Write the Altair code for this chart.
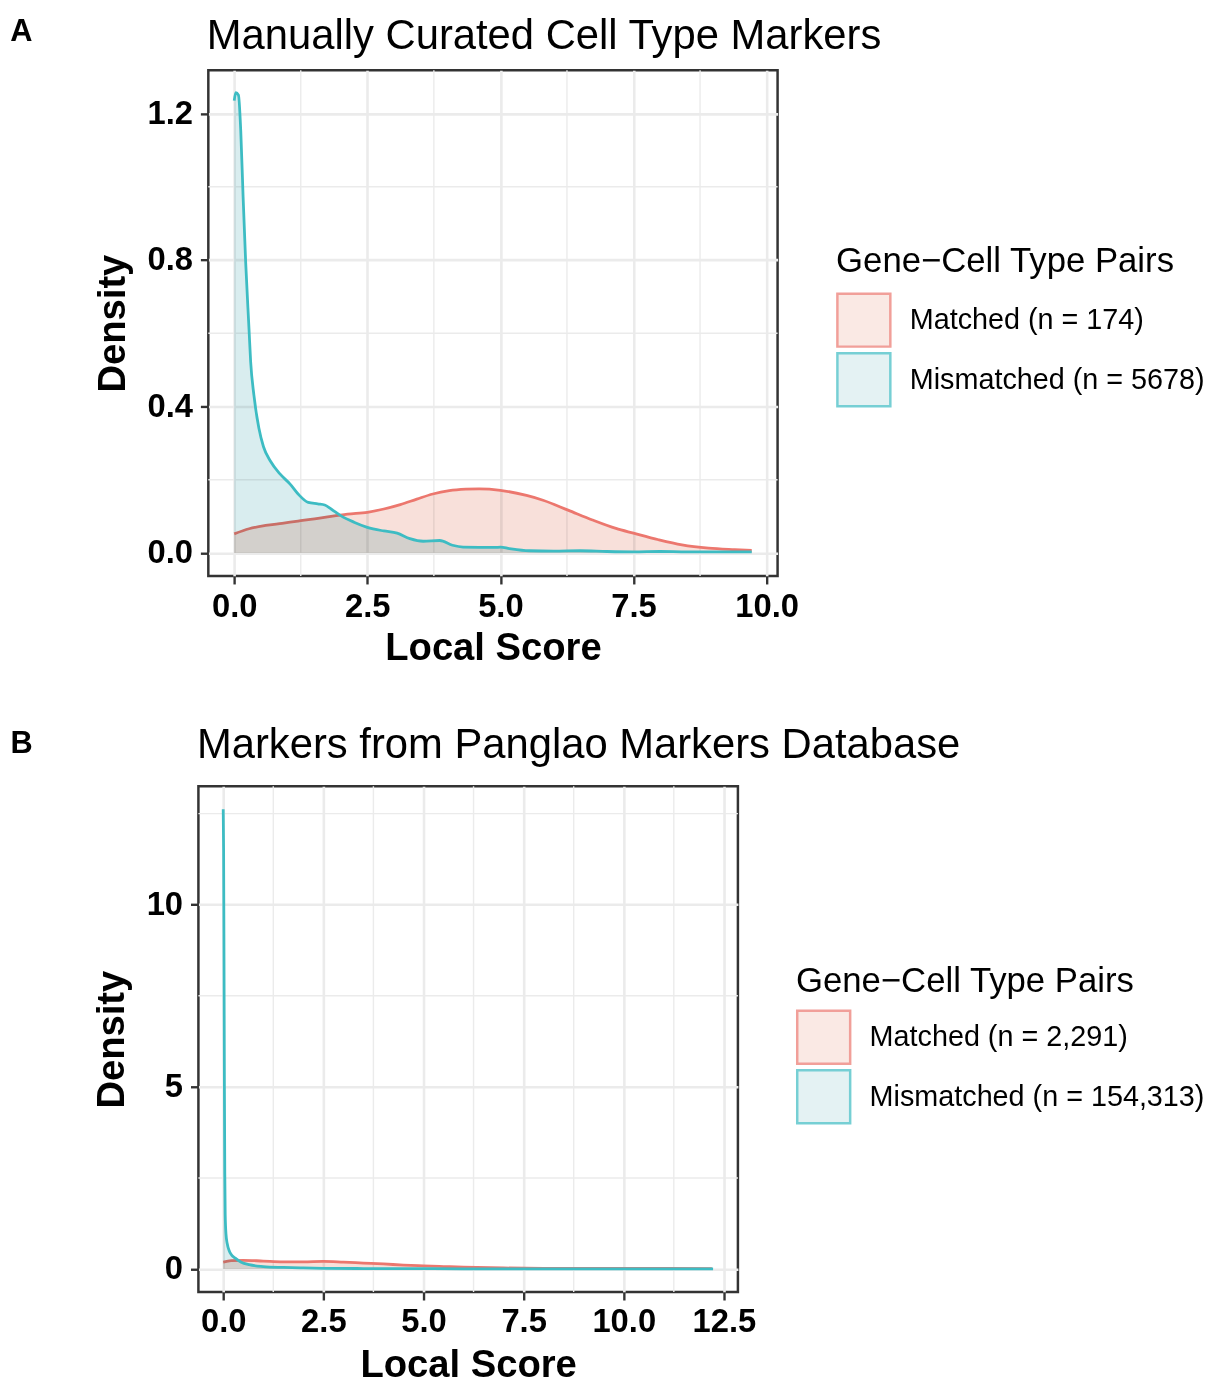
import altair as alt
import pandas as pd

FONT = "Liberation Sans"
RED_LINE = "#EC776E"
CYAN_LINE = "#3DBCC3"
RED_FILL = "#F8E0DA"
CYAN_FILL = "#D9EDEF"
GRID = "#EBEBEB"
LEGEND_TITLE = "Gene\u2212Cell Type Pairs"

# ---------------- Panel A : manually curated markers ----------------
a_title = "Manually Curated Cell Type Markers"
a_groups = ["Matched (n = 174)", "Mismatched (n = 5678)"]
a_matched_x = [0.0, 0.28, 0.59, 0.9, 1.2, 1.51, 1.82, 2.13, 2.5, 2.81,
               3.12, 3.43, 3.73, 4.04, 4.35, 4.6, 5.0, 5.49, 5.8, 6.27,
               6.73, 7.17, 7.5, 7.97, 8.41, 8.91, 9.4, 9.72]
a_matched_y = [0.052, 0.066, 0.075, 0.081, 0.087, 0.093, 0.100, 0.106, 0.111, 0.120,
               0.132, 0.147, 0.161, 0.170, 0.174, 0.175, 0.171, 0.157, 0.144, 0.117,
               0.090, 0.067, 0.054, 0.036, 0.022, 0.013, 0.009, 0.007]
a_mismatched_x = [0.0, 0.03, 0.08, 0.123, 0.167, 0.216, 0.278, 0.309, 0.37, 0.463,
                  0.55, 0.679, 0.864, 1.05, 1.2, 1.39, 1.57, 1.70, 1.82, 2.0,
                  2.25, 2.5, 2.81, 3.06, 3.3, 3.55, 3.86, 4.1, 4.3, 4.9,
                  5.0, 5.17, 5.54, 6.0, 6.5, 7.0, 7.5, 8.0, 8.5, 9.0, 9.72]
a_mismatched_y = [1.235, 1.257, 1.25, 1.153, 0.973, 0.792, 0.612, 0.522, 0.431, 0.341,
                  0.29, 0.251, 0.215, 0.188, 0.161, 0.138, 0.134, 0.131, 0.12, 0.102,
                  0.084, 0.07, 0.06, 0.054, 0.039, 0.032, 0.034, 0.021, 0.016, 0.015,
                  0.016, 0.012, 0.006, 0.005, 0.006, 0.004, 0.003, 0.004, 0.003, 0.003, 0.003]
a_x_major = [0.0, 2.5, 5.0, 7.5, 10.0]
a_x_minor = [1.25, 3.75, 6.25, 8.75]
a_y_major = [0.0, 0.4, 0.8, 1.2]
a_y_minor = [0.2, 0.6, 1.0]

# ---------------- Panel B : Panglao markers ----------------
b_title = "Markers from Panglao Markers Database"
b_groups = ["Matched (n = 2,291)", "Mismatched (n = 154,313)"]
b_matched_x = [0.0, 0.2, 0.5, 1.0, 1.5, 2.0, 2.5, 3.0, 3.5, 4.0,
               4.5, 5.0, 5.5, 6.0, 7.0, 8.0, 9.0, 10.0, 11.0, 12.2]
b_matched_y = [0.19, 0.23, 0.24, 0.22, 0.20, 0.20, 0.21, 0.19, 0.165, 0.14,
               0.11, 0.09, 0.07, 0.052, 0.03, 0.02, 0.018, 0.017, 0.016, 0.012]
b_mismatched_x = [0.0, 0.01, 0.02, 0.03, 0.04, 0.05, 0.07, 0.1, 0.15, 0.2,
                  0.3, 0.45, 0.65, 1.0, 1.5, 2.0, 2.5, 3.5, 4.5, 6.0,
                  8.0, 10.0, 12.23]
b_mismatched_y = [12.62, 11.5, 8.5, 5.0, 2.6, 1.5, 0.95, 0.7, 0.5, 0.4,
                  0.3, 0.19, 0.12, 0.07, 0.045, 0.03, 0.022, 0.015, 0.012, 0.008,
                  0.005, 0.004, 0.003]
b_x_major = [0.0, 2.5, 5.0, 7.5, 10.0, 12.5]
b_x_minor = [1.25, 3.75, 6.25, 8.75, 11.25]
b_y_major = [0, 5, 10]
b_y_minor = [2.5, 7.5, 12.5]


def make_df(xs, ys, g):
    return pd.DataFrame({"score": xs, "density": ys, "group": g})


def spacer():
    # invisible 1px cell: lets each panel be placed by its own left extent
    return alt.Chart(pd.DataFrame({"a": [0]})).mark_rule(
        strokeOpacity=0, strokeWidth=0).encode(
        x=alt.value(0), y=alt.value(0), y2=alt.value(1)).properties(
        width=1, height=1, view=alt.ViewBackground(strokeOpacity=0, strokeWidth=0))


def panel(groups, mx, my, mmx, mmy, xdom, ydom, xmajor, xminor, ymajor, yminor,
          yfmt, width, height, title, title_y, letter, letter_x, letter_y,
          legend_x, legend_y, legend_title_pad, x_label_pad, x_title_pad):
    df = pd.concat([make_df(mx, my, groups[0]), make_df(mmx, mmy, groups[1])],
                   ignore_index=True)
    xs = alt.Scale(domain=xdom, nice=False, zero=False)
    ys = alt.Scale(domain=ydom, nice=False, zero=False)
    fill_sc = alt.Scale(domain=groups, range=[RED_FILL, CYAN_FILL])
    stroke_sc = alt.Scale(domain=groups, range=[RED_LINE, CYAN_LINE])
    xaxis = alt.Axis(values=xmajor, format=".1f", title="Local Score",
                     labelPadding=x_label_pad, titlePadding=x_title_pad)
    yaxis = alt.Axis(values=ymajor, format=yfmt, title="Density")
    leg = alt.Legend(
        title=LEGEND_TITLE, orient="none", legendX=legend_x, legendY=legend_y,
        titleFont=FONT, titleFontSize=35, titleFontWeight="normal", titleColor="black",
        labelFont=FONT, labelFontSize=29, labelColor="black", symbolType="square",
        symbolSize=2850, symbolStrokeWidth=2.5, labelOffset=18.3, rowPadding=-15,
        titlePadding=legend_title_pad, padding=0, labelLimit=600, titleLimit=600)
    base = alt.Chart(df)

    legend_layer = alt.Chart(pd.DataFrame({"group": groups})).transform_filter(
        "false").mark_square(filled=True, strokeWidth=2.5).encode(
        fill=alt.Fill("group:N", scale=fill_sc, legend=leg),
        stroke=alt.Stroke("group:N", scale=stroke_sc, legend=leg))

    vminor = alt.Chart(pd.DataFrame({"v": xminor})).mark_rule(
        color=GRID, strokeWidth=1.4).encode(x=alt.X("v:Q", scale=xs, axis=xaxis))
    hminor = alt.Chart(pd.DataFrame({"v": yminor})).mark_rule(
        color=GRID, strokeWidth=1.4).encode(y=alt.Y("v:Q", scale=ys, axis=yaxis))

    def area(g):
        return base.transform_filter(alt.datum.group == g).mark_area(
            interpolate="monotone", blend="multiply").encode(
            x=alt.X("score:Q", scale=xs, axis=xaxis),
            y=alt.Y("density:Q", scale=ys, axis=yaxis),
            y2=alt.datum(0),
            fill=alt.Fill("group:N", scale=fill_sc, legend=leg))

    def line(g):
        return base.transform_filter(alt.datum.group == g).mark_line(
            interpolate="monotone", strokeWidth=2.8).encode(
            x=alt.X("score:Q", scale=xs, axis=xaxis),
            y=alt.Y("density:Q", scale=ys, axis=yaxis),
            stroke=alt.Stroke("group:N", scale=stroke_sc, legend=leg))

    title_layer = alt.Chart(pd.DataFrame({"t": [title]})).mark_text(
        align="left", baseline="alphabetic", font=FONT, fontSize=42.1,
        color="black").encode(text="t:N", x=alt.value(-1.5), y=alt.value(title_y))
    letter_layer = alt.Chart(pd.DataFrame({"t": [letter]})).mark_text(
        align="left", baseline="alphabetic", font=FONT, fontSize=31,
        fontWeight="bold", color="black").encode(
        text="t:N", x=alt.value(letter_x), y=alt.value(letter_y))

    layered = alt.layer(legend_layer, vminor, hminor, area(groups[0]), line(groups[0]),
                        area(groups[1]), line(groups[1]),
                        title_layer, letter_layer).properties(width=width, height=height)
    return alt.hconcat(spacer(), layered, spacing=0).resolve_scale(
        fill="independent", stroke="independent").resolve_legend(
        fill="independent", stroke="independent")


pa = panel(a_groups, a_matched_x, a_matched_y, a_mismatched_x, a_mismatched_y,
           [-0.486, 10.206], [-0.063, 1.318], a_x_major, a_x_minor, a_y_major,
           a_y_minor, ".1f", 574, 510, a_title, -21, "A", -199.7, -29,
           633, 175, 14, 7, 6)
pb = panel(b_groups, b_matched_x, b_matched_y, b_mismatched_x, b_mismatched_y,
           [-0.619, 12.85], [-0.631, 13.25], b_x_major, b_x_minor, b_y_major,
           b_y_minor, "d", 544, 510, b_title, -28.7, "B", -189.5, -34,
           602.5, 179, 11, 6, 8)

chart = alt.vconcat(pa, pb, spacing=55).resolve_scale(
    x="independent", y="independent", fill="independent", stroke="independent"
).resolve_legend(fill="independent", stroke="independent").properties(
    padding={"left": 0, "top": 0, "right": 0, "bottom": 0}
).configure(font=FONT, background="white").configure_view(
    stroke="#333333", strokeWidth=2.5
).configure_axis(
    grid=True, gridColor=GRID, gridWidth=2.6, domain=False,
    tickColor="#333333", tickWidth=2.4, tickSize=8,
    labelFont=FONT, labelFontSize=33, labelFontWeight="bold", labelColor="black",
    titleFont=FONT, titleFontSize=38.5, titleFontWeight="bold", titleColor="black",
    labelFlush=False, labelOverlap=False
).configure_axisY(labelPadding=8, titlePadding=15)

chart.save("out.html", embed_options={"renderer": "svg", "actions": False})
